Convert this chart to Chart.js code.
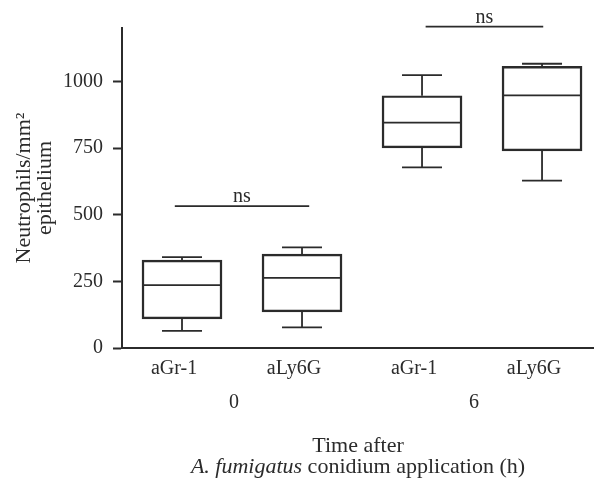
<!DOCTYPE html>
<html>
<head>
<meta charset="utf-8">
<script src="https://cdn.jsdelivr.net/npm/chart.js@4.4.1/dist/chart.umd.min.js"></script>
<style>
  body { margin: 0; background: #fff; }
  #wrap { width: 594px; height: 482px; }
</style>
</head>
<body>
<div id="wrap"><canvas id="chart" width="594" height="482"></canvas></div>
<script>
// box plot values
const categories = ["aGr-1", "aLy6G", "aGr-1", "aLy6G"];
const groups = ["0", "6"];
const groupPos = [0.5, 2.5];
const yTicks = [0, 250, 500, 750, 1000];

const mins = [64, 77, 677, 628];
const q1s = [109, 135, 750, 739];
const medians = [236, 263, 845, 947];
const q3s = [330, 352, 946, 1056];
const maxs = [341, 377, 1023, 1066];

// significance brackets
const bracketFrom = [-0.06, 2.03];
const bracketTo = [1.06, 3.01];
const bracketY = [532, 1205];
const bracketText = ["ns", "ns"];

const ink = "#2b2b2b";
const serif = "'Liberation Serif', 'DejaVu Serif', serif";

// median, whiskers and caps as broken line segments
const gap = i => ({ x: i, y: null });
const whiskers = [];
categories.forEach((c, i) => {
  whiskers.push({ x: i - 0.325, y: medians[i] }, { x: i + 0.325, y: medians[i] }, gap(i));
  whiskers.push({ x: i, y: q3s[i] }, { x: i, y: maxs[i] }, gap(i));
  whiskers.push({ x: i - 1 / 6, y: maxs[i] }, { x: i + 1 / 6, y: maxs[i] }, gap(i));
  whiskers.push({ x: i, y: q1s[i] }, { x: i, y: mins[i] }, gap(i));
  whiskers.push({ x: i - 1 / 6, y: mins[i] }, { x: i + 1 / 6, y: mins[i] }, gap(i));
});

const brackets = [];
bracketY.forEach((y, i) => {
  brackets.push({ x: bracketFrom[i], y: y }, { x: bracketTo[i], y: y }, gap(0));
});

const nsLabels = {
  id: "nsLabels",
  afterDatasetsDraw(chart) {
    const { ctx, scales } = chart;
    ctx.save();
    ctx.font = "20px " + serif;
    ctx.fillStyle = ink;
    ctx.textAlign = "center";
    ctx.textBaseline = "alphabetic";
    bracketText.forEach((t, i) => {
      const x = scales.x.getPixelForValue((bracketFrom[i] + bracketTo[i]) / 2);
      const y = scales.y.getPixelForValue(bracketY[i]) - 4;
      ctx.fillText(t, x, y);
    });
    ctx.restore();
  }
};

// x title has an italic species name, so it is drawn by hand
const xTitle = {
  id: "xTitle",
  afterDraw(chart) {
    const { ctx, chartArea, scales } = chart;
    const cx = (chartArea.left + chartArea.right) / 2;
    const top = scales.x2.bottom;
    const f = "22px " + serif;
    ctx.save();
    ctx.fillStyle = ink;
    ctx.textBaseline = "alphabetic";
    ctx.font = f;
    ctx.textAlign = "center";
    ctx.fillText("Time after", cx, top + 36);

    const it = "A. fumigatus";
    const rest = " conidium application (h)";
    ctx.font = "italic " + f;
    const w1 = ctx.measureText(it).width;
    ctx.font = f;
    const w2 = ctx.measureText(rest).width;
    let x = cx - (w1 + w2) / 2;
    ctx.textAlign = "left";
    ctx.font = "italic " + f;
    ctx.fillText(it, x, top + 57);
    ctx.font = f;
    ctx.fillText(rest, x + w1, top + 57);
    ctx.restore();
  }
};

new Chart(document.getElementById("chart"), {
  type: "bar",
  data: {
    datasets: [
      {
        type: "bar",
        data: categories.map((c, i) => ({ x: i, y: [q1s[i], q3s[i]] })),
        backgroundColor: "rgba(255,255,255,0)",
        borderColor: ink,
        borderWidth: 1.8,
        borderSkipped: false,
        barThickness: 80
      },
      {
        type: "line",
        data: whiskers,
        borderColor: ink,
        borderWidth: 1.8,
        pointRadius: 0,
        spanGaps: false,
        fill: false
      },
      {
        type: "line",
        data: brackets,
        borderColor: ink,
        borderWidth: 1.8,
        pointRadius: 0,
        spanGaps: false,
        fill: false,
        clip: false
      }
    ]
  },
  options: {
    responsive: false,
    animation: false,
    layout: { padding: { top: 28, left: 4, right: 0, bottom: 66 } },
    plugins: { legend: { display: false }, tooltip: { enabled: false } },
    scales: {
      x: {
        type: "linear",
        min: -0.5,
        max: 3.433,
        offset: false,
        afterBuildTicks: s => { s.ticks = categories.map((c, i) => ({ value: i })); },
        ticks: {
          autoSkip: false,
          maxRotation: 0,
          padding: 9,
          labelOffset: -8,
          color: ink,
          font: { family: serif, size: 20 },
          callback: (v, i) => categories[i]
        },
        grid: { display: false, drawTicks: false, offset: false },
        border: { display: true, color: ink, width: 2 }
      },
      x2: {
        type: "linear",
        position: "bottom",
        min: -0.5,
        max: 3.433,
        offset: false,
        afterBuildTicks: s => { s.ticks = groupPos.map(v => ({ value: v })); },
        ticks: {
          autoSkip: false,
          maxRotation: 0,
          padding: 1,
          labelOffset: -8,
          color: ink,
          font: { family: serif, size: 20 },
          callback: (v, i) => groups[i]
        },
        grid: { display: false, drawTicks: false, offset: false },
        border: { display: false }
      },
      y: {
        min: 0,
        max: 1200,
        afterBuildTicks: s => { s.ticks = yTicks.map(v => ({ value: v })); },
        afterFit: s => { s.width = 118; },
        ticks: {
          padding: 10,
          color: ink,
          font: { family: serif, size: 20 },
          callback: v => String(v)
        },
        grid: { drawOnChartArea: false, drawTicks: true, tickLength: 9, tickColor: ink, tickWidth: 2 },
        border: { display: true, color: ink, width: 2 },
        title: {
          display: true,
          text: ["Neutrophils/mm\u00b2", "epithelium"],
          color: ink,
          font: { family: serif, size: 22, lineHeight: 0.96 },
          padding: { top: 10, bottom: 0 }
        }
      }
    }
  },
  plugins: [nsLabels, xTitle]
});
</script>
</body>
</html>
